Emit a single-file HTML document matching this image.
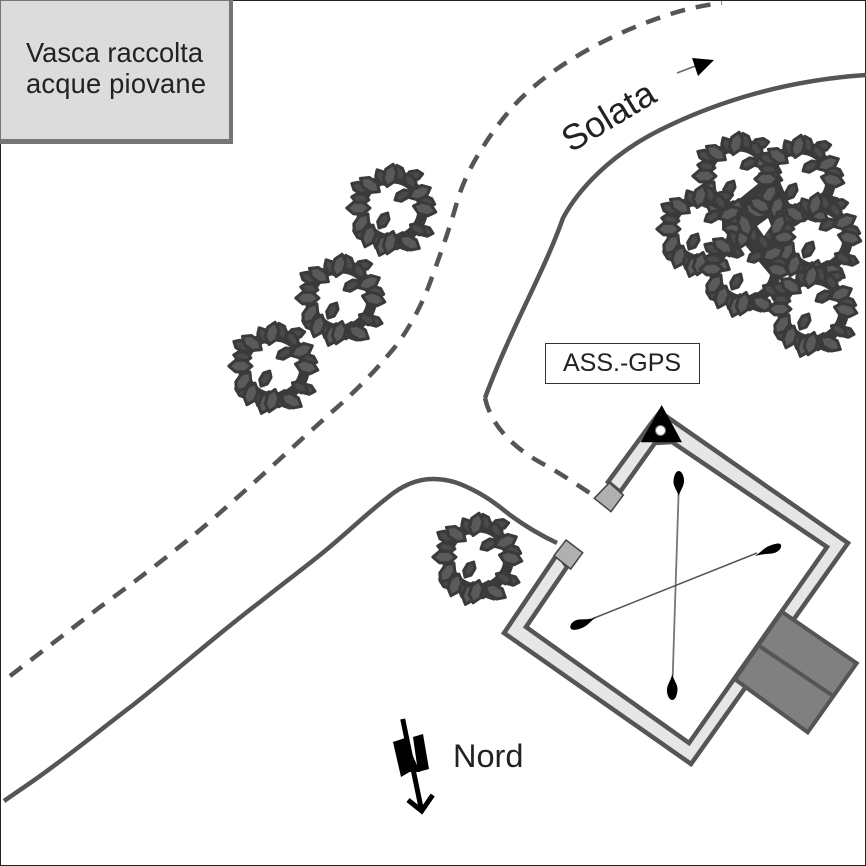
<!DOCTYPE html>
<html>
<head>
<meta charset="utf-8">
<style>
html,body{margin:0;padding:0;background:#fff}
svg{display:block;font-family:"Liberation Sans",sans-serif}
</style>
</head>
<body>
<svg xmlns="http://www.w3.org/2000/svg" width="866" height="866" viewBox="0 0 866 866">
<defs>
<path id="l" d="M-12 0L-5 -6L5 -6L12 0L5 6L-5 6Z" fill="#5a5a5a" stroke="#3a3a3a" stroke-width="3.2" stroke-linejoin="round"/>
<path id="s" d="M-9 0L-4 -4.5L4 -4.5L9 0L4 4.5L-4 4.5Z" fill="#4a4a4a" stroke="#3a3a3a" stroke-width="3.2" stroke-linejoin="round"/>
<g id="t" transform="scale(.96)">
<circle r="32" fill="none" stroke="#3a3a3a" stroke-width="11"/>
<use href="#s" transform="translate(-34 -22) rotate(30)"/>
<use href="#s" transform="translate(-33 -11) rotate(10)"/>
<use href="#s" transform="translate(23 -35) rotate(-10)"/>
<use href="#s" transform="translate(19 -29) rotate(55)"/>
<use href="#s" transform="translate(8 -37) rotate(70)"/>
<use href="#s" transform="translate(-11 -33) rotate(60)"/>
<use href="#s" transform="translate(36 -8) rotate(20)"/>
<use href="#s" transform="translate(-34 24) rotate(60)"/>
<use href="#s" transform="translate(-26 28) rotate(-70)"/>
<use href="#s" transform="translate(-14 35) rotate(70)"/>
<use href="#s" transform="translate(8 33) rotate(-70)"/>
<use href="#s" transform="translate(12 35) rotate(60)"/>
<use href="#s" transform="translate(34 23) rotate(15)"/>
<use href="#s" transform="translate(27 21) rotate(30)"/>
<use href="#l" transform="translate(-23 -25) rotate(35)"/>
<use href="#l" transform="translate(-2 -35) rotate(-75)"/>
<use href="#l" transform="translate(29 -17) rotate(-25)"/>
<use href="#l" transform="translate(34 0) rotate(15)"/>
<use href="#l" transform="translate(-35 -1) rotate(0)"/>
<use href="#l" transform="translate(-32 15) rotate(-55)"/>
<use href="#l" transform="translate(-24 28) rotate(-70)"/>
<use href="#l" transform="translate(-9 37) rotate(-70)"/>
<use href="#l" transform="translate(-2 35) rotate(-75)"/>
<use href="#l" transform="translate(18 35) rotate(30)"/>
<use href="#s" transform="translate(11 -14) rotate(-30)"/>
<use href="#s" transform="translate(-9 12) rotate(-60)"/>
</g>
</defs>

<rect x="0.5" y="0.5" width="865" height="865" fill="#fff" stroke="#222" stroke-width="1"/>

<!-- tank box -->
<rect x="0" y="0" width="233" height="144" fill="#757575"/>
<rect x="1" y="1" width="228" height="138" fill="#dcdcdc"/>
<text x="26" y="62" font-size="27.3" fill="#222">Vasca raccolta</text>
<text x="26" y="93" font-size="27.3" fill="#222" textLength="180" lengthAdjust="spacing">acque piovane</text>

<!-- roads -->
<path d="M10 676L100 607C140 578 190 540 223 510C260 478 300 440 342 403C365 382 380 365 395 347C412 325 425 298 432 277C442 250 450 227 457 202C462 185 470 168 478 155C490 135 500 122 510 110C540 75 590 45 640 25C670 13 695 6 722 3" fill="none" stroke="#555" stroke-width="4.5" stroke-dasharray="15 11"/>
<path d="M866 75C790 80 720 100 660 130C610 155 578 190 563 218C545 270 510 330 485 398" fill="none" stroke="#555" stroke-width="4.5"/>
<path d="M485 398C492 430 520 452 545 465C565 476 580 487 596 497" fill="none" stroke="#555" stroke-width="4.5" stroke-dasharray="15 11"/>
<path d="M4 801L33 781C70 755 100 730 133 705C175 672 220 632 260 602C280 586 300 571 320 555C345 535 365 515 387 498C400 487 415 479 433 479C450 479 462 484 477 492C490 499 500 507 510 515C525 526 540 535 557 543" fill="none" stroke="#555" stroke-width="4.5"/>

<!-- trees -->
<use href="#t" transform="translate(392 209)"/>
<use href="#t" transform="translate(341 299)"/>
<use href="#t" transform="translate(274 367)"/>
<use href="#t" transform="translate(478 558)"/>
<polygon points="738,200 775,170 790,205 792,240 793,265 770,275 745,245 722,230 722,205" fill="#3a3a3a"/>
<use href="#t" transform="translate(738 177)"/>
<use href="#t" transform="translate(800 180)"/>
<use href="#t" transform="translate(702 230)"/>
<use href="#t" transform="translate(817 238)"/>
<use href="#t" transform="translate(745 270)"/>
<use href="#t" transform="translate(813 310)"/>
<use href="#l" transform="translate(760 205) rotate(30)"/>
<use href="#l" transform="translate(778 225) rotate(-60)"/>
<use href="#l" transform="translate(745 225) rotate(70)"/>
<polygon points="757,226 768,218 771,226 764,236" fill="#fff"/>

<!-- building -->
<polygon points="608,482 650,425 660,412 848,543 691,764 504,633 558,553 567,567 526,627 689,743 827,547 672,442 655,443 620,492" fill="#e6e6e6" stroke="#555" stroke-width="4.5"/>
<polygon points="781.7,611.7 856.7,663.3 807.7,732.3 735,679.3" fill="#808080" stroke="#555" stroke-width="4"/>
<line x1="759.3" y1="646" x2="831.7" y2="695" stroke="#555" stroke-width="4"/>
<polygon points="609.3,482.7 623.3,495 611,511.7 594.3,498.3" fill="#b0b0b0" stroke="#444" stroke-width="1.5"/>
<polygon points="566,540 582.7,552.7 570.7,569 554,555.7" fill="#b0b0b0" stroke="#444" stroke-width="1.5"/>
<polygon points="661.7,405 640.7,442.3 682,442.3" fill="#000"/>
<circle cx="660.5" cy="430.5" r="5" fill="#fff" stroke="#777" stroke-width="1"/>

<!-- cross -->
<line x1="678.7" y1="490" x2="672.7" y2="676" stroke="#777" stroke-width="1.8"/>
<line x1="593" y1="618.5" x2="757" y2="553" stroke="#555" stroke-width="1.5"/>
<path d="M678.7 471C682 471 684.5 477 684 482C683.5 487 680 491 678.7 496C677.5 491 673.5 487 673.5 482C673.5 477 675.5 471 678.7 471Z" fill="#000"/>
<path d="M672.3 700C669 700 666.5 694 667 689C667.5 684 671 680 672.3 674C673.5 680 677.5 684 677.5 689C677.5 694 675.5 700 672.3 700Z" fill="#000"/>
<path d="M570.5 628C569.5 624 574 620 579 619.5C584 619 589 620 596 617C590 622 587 626 582 628C577 630 571.5 631 570.5 628Z" fill="#000"/>
<path d="M781 545C782 549 777 553 772 553.5C767 554 762 554 755 556C761 552 764 548 769 546C774 544 780 542 781 545Z" fill="#000"/>

<!-- GPS label -->
<rect x="545.5" y="343.5" width="154" height="40" fill="#fff" stroke="#333" stroke-width="1"/>
<text x="563" y="371" font-size="25" fill="#222">ASS.-GPS</text>

<!-- Solata -->
<text transform="translate(571 153) rotate(-31)" font-size="36" fill="#222">Solata</text>
<line x1="677" y1="73" x2="698" y2="65" stroke="#666" stroke-width="1.5"/>
<polygon points="692,58 714,60 698,76" fill="#000"/>

<!-- North -->
<line x1="402.7" y1="719" x2="421.7" y2="811" stroke="#000" stroke-width="5"/>
<polyline points="408,800 421.7,811 432.7,795" fill="none" stroke="#000" stroke-width="5"/>
<polygon points="393,742 405,738 413,770 401,777" fill="#000"/>
<polygon points="413,737 423,734 429,769 418,772" fill="#000"/>
<polygon points="405,738 420,772 410,772 398,742" fill="#000"/>
<text x="453" y="767" font-size="32.5" fill="#222">Nord</text>
</svg>
</body>
</html>
